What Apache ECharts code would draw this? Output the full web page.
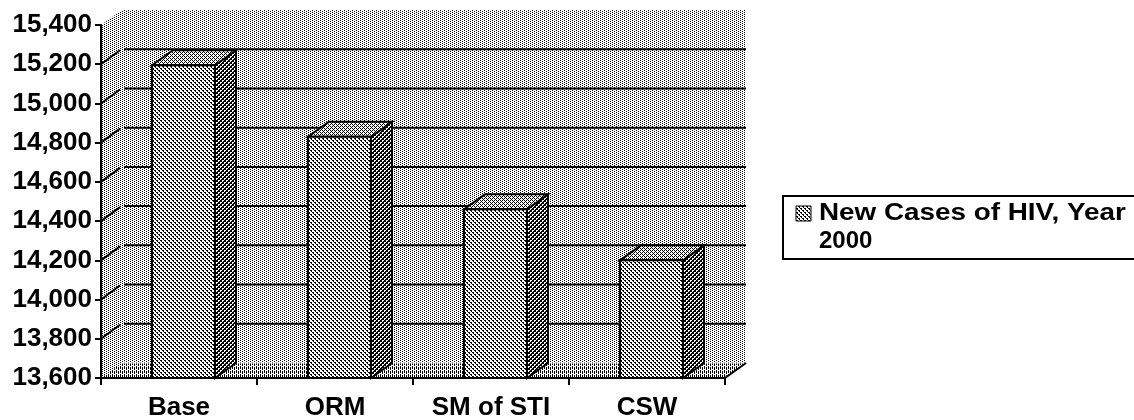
<!DOCTYPE html>
<html>
<head>
<meta charset="utf-8">
<script src="https://cdn.jsdelivr.net/npm/echarts@6/dist/echarts.min.js"></script>
<style>
  html, body { margin: 0; padding: 0; background: #ffffff; }
  #chart { width: 1134px; height: 420px; }
</style>
</head>
<body>
<div id="chart"></div>
<script>
// ---- data ----
const categories = ['Base', 'ORM', 'SM of STI', 'CSW'];
const newCases2000 = [15195, 14830, 14460, 14200];
const yTickValues = [13600, 13800, 14000, 14200, 14400, 14600, 14800, 15000, 15200, 15400];
const wallGridValues = [13800, 14000, 14200, 14400, 14600, 14800, 15000, 15200];
const legendLines = ['New Cases of HIV, Year', '2000'];

// ---- look ----
const FONT = '"Liberation Sans", Arial, Helvetica, sans-serif';
const DX = 21;   // oblique depth, horizontal
const DY = 15;   // oblique depth, vertical

// small repeating black-dot tiles used as fills
function makePattern(size, isInk) {
  const c = document.createElement('canvas');
  c.width = size; c.height = size;
  const g = c.getContext('2d');
  g.fillStyle = '#ffffff';
  g.fillRect(0, 0, size, size);
  g.fillStyle = '#000000';
  for (let y = 0; y < size; y++) {
    for (let x = 0; x < size; x++) {
      if (isInk(x, y)) g.fillRect(x, y, 1, 1);
    }
  }
  return { image: c, repeat: 'repeat' };
}
// fine stipple for the walls
const wallFill = makePattern(4, (x, y) => (y % 2 === 0 && x === 0) || (y % 2 === 1 && x === 2));
// slightly denser stipple for the floor
const floorFill = makePattern(4, (x, y) =>
  (y % 2 === 0 && x === 0) || (y % 2 === 1 && x === 2) || (y === 0 && x === 2) || (y === 3 && x === 0));
// column faces
const frontFill = makePattern(4, (x, y) =>
  (y === 0 && x < 2) || (y === 1 && x === 1) || (y === 2 && x >= 2) || (y === 3 && x === 3));
const topFill = makePattern(4, (x, y) => ((x + y) % 2 === 0) && !(x === 3 && y === 1) && !(x === 1 && y === 3));
const sideFill = makePattern(4, (x, y) => ((x + y) % 4 < 2) || ((x - y + 8) % 4 === 0));

const chart = echarts.init(document.getElementById('chart'), null, { renderer: 'canvas' });

const yMin = yTickValues[0];
const yMax = yTickValues[yTickValues.length - 1];

const option = {
  animation: false,
  backgroundColor: '#ffffff',
  grid: { left: 101, right: 409, top: 25, bottom: 42, containLabel: false, outerBoundsMode: 'none' },
  xAxis: {
    type: 'category',
    data: categories,
    boundaryGap: true,
    z: 10,
    axisLine: { show: true, lineStyle: { color: '#000', width: 2 } },
    axisTick: { show: true, alignWithLabel: false, length: 7, lineStyle: { color: '#000', width: 2 } },
    axisLabel: { color: '#000', fontFamily: FONT, fontWeight: 'bold', fontSize: 26, margin: 17 },
    splitLine: { show: false }
  },
  yAxis: {
    type: 'value',
    min: yMin,
    max: yMax,
    interval: 200,
    z: 10,
    axisLine: { show: true, lineStyle: { color: '#000', width: 2 } },
    axisTick: { show: true, length: 6, lineStyle: { color: '#000', width: 2 } },
    axisLabel: {
      color: '#000', fontFamily: FONT, fontWeight: 'bold', fontSize: 26, margin: 9,
      formatter: v => Number(v).toLocaleString('en-US')
    },
    splitLine: { show: false }
  },
  series: [
    {
      // side wall, back wall and floor
      type: 'custom',
      z: 1,
      silent: true,
      data: [[0, yMin]],
      encode: { x: 0, y: 1 },
      renderItem: function (params, api) {
        const cs = params.coordSys;
        const L = cs.x, T = cs.y, R = cs.x + cs.width, B = cs.y + cs.height;
        return {
          type: 'group',
          children: [
            {
              type: 'polygon',
              shape: { points: [[L, T], [L + DX, T - DY], [R + DX, T - DY], [R + DX, B - DY], [R, B], [L, B]] },
              style: { fill: wallFill, stroke: null }
            },
            {
              type: 'polygon',
              shape: { points: [[L, B], [L + DX, B - DY], [R + DX, B - DY], [R, B]] },
              style: { fill: floorFill, stroke: null }
            },
            {
              type: 'line',
              shape: { x1: L + DX, y1: B - DY, x2: R + DX, y2: B - DY },
              style: { stroke: '#ffffff', lineWidth: 1 }
            },
            {
              type: 'line',
              shape: { x1: R, y1: B, x2: R + DX, y2: B - DY },
              style: { stroke: '#000', lineWidth: 2 }
            }
          ]
        };
      }
    },
    {
      // gridlines on the side and back walls
      type: 'custom',
      z: 2,
      silent: true,
      data: wallGridValues.map(v => [0, v]),
      encode: { x: 0, y: 1 },
      renderItem: function (params, api) {
        const cs = params.coordSys;
        const L = cs.x, R = cs.x + cs.width;
        const y = api.coord([0, api.value(1)])[1];
        return {
          type: 'group',
          children: [
            { type: 'line', shape: { x1: L, y1: y, x2: L + DX - 2, y2: y - DY + 1 }, style: { stroke: '#000', lineWidth: 2 } },
            { type: 'line', shape: { x1: L + DX + 2, y1: y - DY, x2: R + DX, y2: y - DY }, style: { stroke: '#000', lineWidth: 2 } }
          ]
        };
      }
    },
    {
      // 3-D columns
      name: legendLines.join(' '),
      type: 'custom',
      z: 3,
      data: newCases2000.map((v, i) => [i, v]),
      encode: { x: 0, y: 1 },
      renderItem: function (params, api) {
        const idx = api.value(0);
        const val = api.value(1);
        const topPt = api.coord([idx, val]);
        const basePt = api.coord([idx, yMin]);
        const cx = topPt[0];
        const top = topPt[1];
        const base = basePt[1];
        const x0 = cx - 27, x1 = cx + 36;
        const edge = { stroke: '#000', lineWidth: 2, lineJoin: 'miter' };
        return {
          type: 'group',
          children: [
            {
              type: 'polygon',
              shape: { points: [[x1, top], [x1 + DX, top - DY], [x1 + DX, base - DY], [x1, base]] },
              style: Object.assign({ fill: sideFill }, edge)
            },
            {
              type: 'polygon',
              shape: { points: [[x0, top], [x0 + DX, top - DY], [x1 + DX, top - DY], [x1, top]] },
              style: Object.assign({ fill: topFill }, edge)
            },
            {
              type: 'rect',
              shape: { x: x0, y: top, width: x1 - x0, height: base - top },
              style: Object.assign({ fill: frontFill }, edge)
            }
          ]
        };
      }
    }
  ],
  graphic: [
    {
      type: 'group',
      z: 20,
      children: [
        {
          type: 'rect',
          shape: { x: 783, y: 196, width: 420, height: 63 },
          style: { fill: '#ffffff', stroke: '#000', lineWidth: 2 }
        },
        {
          type: 'rect',
          shape: { x: 796, y: 206, width: 15, height: 15 },
          style: { fill: frontFill, stroke: '#000', lineWidth: 1 }
        },
        {
          type: 'text',
          x: 819, y: 201, scaleX: 1.16,
          style: { text: legendLines[0], font: 'bold 24px ' + FONT, fill: '#000', textVerticalAlign: 'top' }
        },
        {
          type: 'text',
          x: 819, y: 229,
          style: { text: legendLines[1], font: 'bold 24px ' + FONT, fill: '#000', textVerticalAlign: 'top' }
        }
      ]
    }
  ]
};

chart.setOption(option);
</script>
</body>
</html>
